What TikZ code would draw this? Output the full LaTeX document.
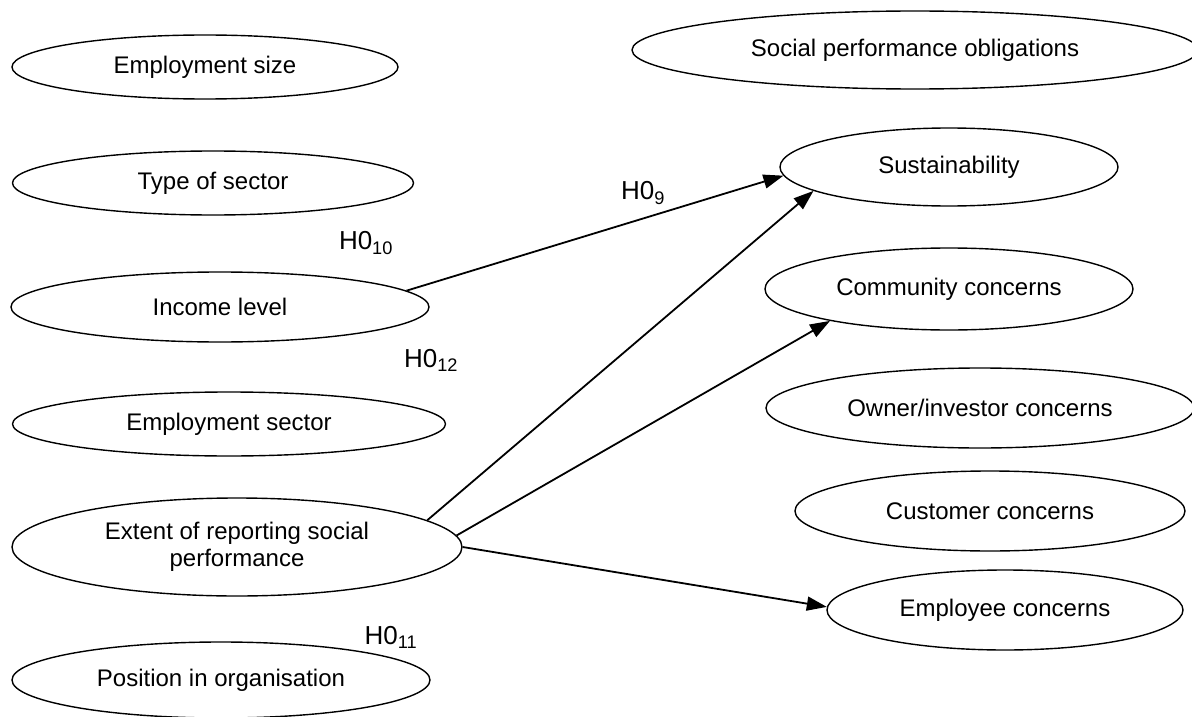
\documentclass[tikz,border=0pt]{standalone}
\usepackage{fontspec}
\setmainfont{Liberation Sans}
\usetikzlibrary{shapes.geometric,arrows.meta}

\tikzset{
  factor/.style={draw, ellipse, line width=1.4pt, inner sep=0pt, align=center,
                 font=\fontsize{24}{27.5}\selectfont},
  link/.style={line width=1.8pt, -{Triangle[length=20pt,width=14pt]}},
  hyp/.style={font=\fontsize{26}{30}\selectfont, inner sep=0pt}
}

\begin{document}
\begin{tikzpicture}[x=1pt, y=-1pt]
\useasboundingbox (0,0) rectangle (1192,717);

% independent variables (left column)
\node[factor, minimum width=386pt, minimum height=64pt] (esize) at (205,67) {Employment size};
\node[factor, minimum width=401pt, minimum height=64pt] (tsec)  at (213,183) {Type of sector};
\node[factor, minimum width=418pt, minimum height=70pt] (inc)   at (220,307) {Income level};
\node[factor, minimum width=433pt, minimum height=64pt] (esec)  at (229,424) {Employment sector};
\node[factor, minimum width=450pt, minimum height=98pt] (ext)   at (237,547) {Extent of reporting social\\performance};
\node[factor, minimum width=418pt, minimum height=76pt] (pos)   at (221,680) {Position in organisation};

% dependent variables (right column)
\node[factor, minimum width=566pt, minimum height=78pt] (spo)  at (915,50)  {Social performance obligations};
\node[factor, minimum width=338pt, minimum height=78pt] (sus)  at (949,167) {Sustainability};
\node[factor, minimum width=368pt, minimum height=82pt] (com)  at (949,289) {Community concerns};
\node[factor, minimum width=428pt, minimum height=80pt] (own)  at (980,408) {Owner/investor concerns};
\node[factor, minimum width=390pt, minimum height=80pt] (cus)  at (990,511) {Customer concerns};
\node[factor, minimum width=356pt, minimum height=80pt] (emp)  at (1005,610) {Employee concerns};

% hypothesis links
\draw[link] (inc.5)   -- (sus.183);
\draw[link] (ext.8)   -- (sus.190);
\draw[link] (ext.3.9) -- (com.195.3);
\draw[link] (ext.-0.8) -- (emp.179);

% hypothesis labels
\node[hyp] (h9)  at (643,193) {H0\textsubscript{9}};
\node[hyp] (h10) at (366,243) {H0\textsubscript{10}};
\node[hyp] (h12) at (431,360) {H0\textsubscript{12}};
\node[hyp] (h11) at (391,637) {H0\textsubscript{11}};
\end{tikzpicture}
\end{document}
